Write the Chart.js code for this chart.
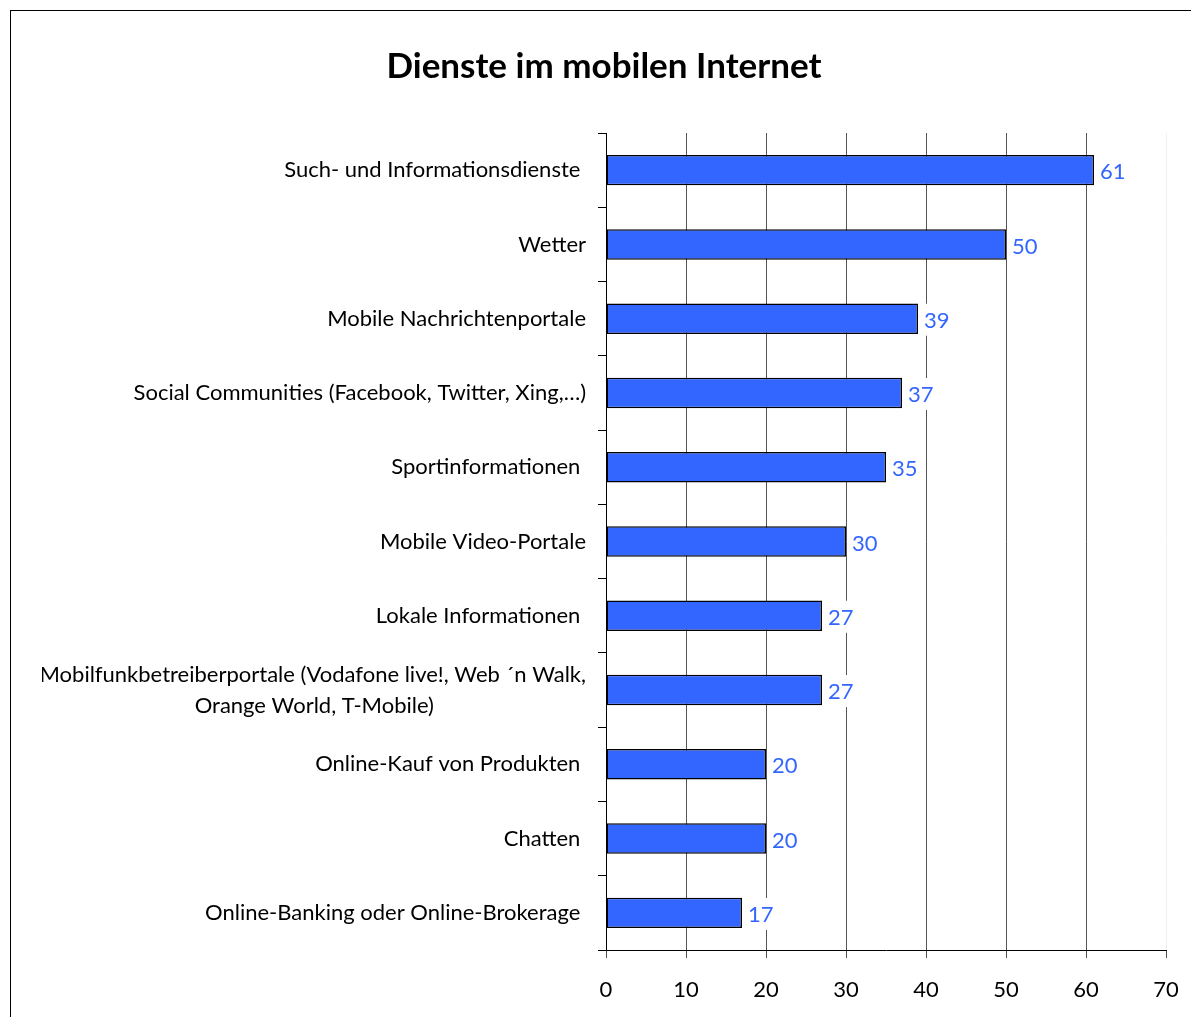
<!DOCTYPE html>
<html>
<head>
<meta charset="utf-8">
<script src="https://cdn.jsdelivr.net/npm/chart.js@4/dist/chart.umd.min.js"></script>
<style>
  html, body { margin: 0; padding: 0; background: #fff; }
  #wrap { width: 1191px; height: 1017px; position: relative; }
</style>
</head>
<body>
<div id="wrap"><canvas id="chart" width="1191" height="1017"></canvas></div>
<script>
// Dienste im mobilen Internet - values in percent
const categories = [
    'Such- und Informationsdienste ',
    'Wetter',
    'Mobile Nachrichtenportale',
    'Social Communities (Facebook, Twitter, Xing,…)',
    'Sportinformationen ',
    'Mobile Video-Portale',
    'Lokale Informationen ',
    ['Mobilfunkbetreiberportale (Vodafone live!, Web ´n Walk,', 'Orange World, T-Mobile)'],
    'Online-Kauf von Produkten ',
    'Chatten ',
    'Online-Banking oder Online-Brokerage '
];
const values = [61, 50, 39, 37, 35, 30, 27, 27, 20, 20, 17];
const xTicks = [0, 10, 20, 30, 40, 50, 60, 70];

const FONT = 'Lato, "Open Sans", sans-serif';
const LABEL_SIZE = 22;
const BAR_BLUE = '#3366FF';

// pad short lines of a multi-line label so they look centred under the longest one
const measureCtx = document.createElement('canvas').getContext('2d');
measureCtx.font = LABEL_SIZE + 'px ' + FONT;
function centreLines(lines) {
    if (!Array.isArray(lines)) return lines;
    const widest = Math.max(...lines.map(l => measureCtx.measureText(l).width));
    const space = measureCtx.measureText(' ').width;
    return lines.map(l => {
        const gap = widest - measureCtx.measureText(l).width;
        return l + ' '.repeat(Math.round(gap / 2 / space));
    });
}

// outer frame like the original spreadsheet chart
const framePlugin = {
    id: 'frame',
    beforeDraw(chart) {
        const c = chart.ctx;
        c.save();
        c.strokeStyle = '#000';
        c.lineWidth = 1;
        c.strokeRect(10.5, 10.5, 1400, 1400);
        c.restore();
    }
};

// value labels at the bar ends (white box behind, hides the gridline)
const valueLabels = {
    id: 'valueLabels',
    afterDatasetsDraw(chart) {
        const c = chart.ctx;
        const meta = chart.getDatasetMeta(0);
        c.save();
        c.font = LABEL_SIZE + 'px ' + FONT;
        c.textAlign = 'left';
        c.textBaseline = 'middle';
        meta.data.forEach((bar, i) => {
            const txt = String(values[i]);
            const w = c.measureText(txt).width;
            c.fillStyle = '#fff';
            c.fillRect(bar.x + 4, bar.y - 15, w + 4, 32);
            c.fillStyle = BAR_BLUE;
            c.fillText(txt, bar.x + 6, bar.y + 2);
        });
        c.restore();
    }
};

const ctx = document.getElementById('chart').getContext('2d');
new Chart(ctx, {
    type: 'bar',
    data: {
        labels: categories,
        datasets: [{
            data: values,
            backgroundColor: BAR_BLUE,
            borderColor: '#000',
            borderWidth: 1.5,
            borderSkipped: false,
            categoryPercentage: 1,
            barPercentage: 0.41
        }]
    },
    options: {
        indexAxis: 'y',
        responsive: false,
        animation: false,
        layout: { padding: { left: 42, right: 25, top: 0, bottom: 0 } },
        plugins: {
            legend: { display: false },
            tooltip: { enabled: false },
            title: {
                display: true,
                text: 'Dienste im mobilen Internet',
                color: '#000',
                font: { family: FONT, size: 35, weight: 'bold', lineHeight: 1.2 },
                padding: { top: 46, bottom: 45 }
            }
        },
        scales: {
            x: {
                min: 0,
                max: 70,
                afterBuildTicks: scale => { scale.ticks = xTicks.map(v => ({ value: v })); },
                afterFit: scale => {
                    scale.height = 67;
                    scale.paddingLeft = 0;
                    scale.paddingRight = 0;
                },
                grid: {
                    color: c => (c.tick && c.tick.value === 70 ? '#f0f0f0' : '#555555'),
                    lineWidth: 1,
                    tickLength: 8,
                    drawTicks: true,
                    tickColor: '#555555'
                },
                border: { display: true, color: '#000', width: 1 },
                ticks: {
                    color: '#000',
                    padding: 19,
                    font: { family: FONT, size: LABEL_SIZE }
                }
            },
            y: {
                afterFit: scale => { scale.width = 564; },
                grid: {
                    offset: true,
                    drawOnChartArea: false,
                    tickLength: 8,
                    color: '#000'
                },
                border: { display: true, color: '#000', width: 1 },
                ticks: {
                    color: '#000',
                    padding: 12,
                    font: { family: FONT, size: LABEL_SIZE, lineHeight: 1.4 },
                    callback: function (value) {
                        return centreLines(categories[value]);
                    }
                }
            }
        }
    },
    plugins: [framePlugin, valueLabels]
});
</script>
</body>
</html>
